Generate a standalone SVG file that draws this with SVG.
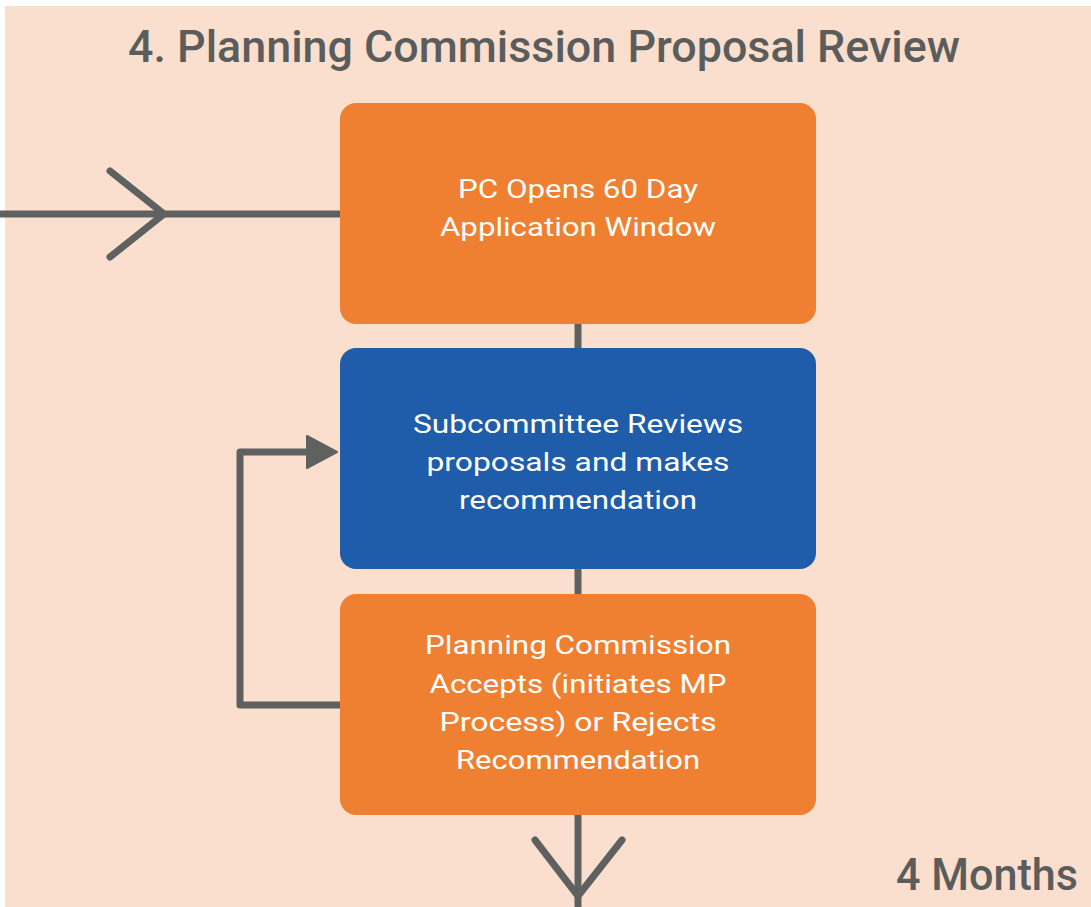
<svg xmlns="http://www.w3.org/2000/svg" width="1091" height="907" viewBox="0 0 1091 907">
<style>
.bg{fill:#FBDFCE}
.or{fill:#F08031}
.bl{fill:#1F5DAA}
.lbl{font-family:Roboto,"Liberation Sans",sans-serif;font-size:26px;fill:#FFFFFF;text-anchor:middle;font-weight:400}
.ttl{font-family:Roboto,"Liberation Sans",sans-serif;font-size:44px;fill:#5B5D5D;font-weight:500}
.ln{stroke:#5F6161;stroke-width:7;fill:none}
.chev{stroke:#5F6161;stroke-width:7;fill:none;stroke-linecap:round;stroke-linejoin:round}
</style>
<rect width="1091" height="907" fill="#FFFFFF"/>
<rect class="bg" x="5" y="6" width="1086" height="901"/>
<text class="ttl" x="128" y="62" textLength="832" lengthAdjust="spacingAndGlyphs">4. Planning Commission Proposal Review</text>
<text class="ttl" x="896" y="890" textLength="182" lengthAdjust="spacingAndGlyphs">4 Months</text>
<g id="connectors">
<line class="ln" x1="0" y1="214" x2="340" y2="214"/>
<polyline class="chev" points="110,171 164,214 110,257"/>
<line class="ln" x1="578" y1="322" x2="578" y2="350"/>
<line class="ln" x1="578" y1="567" x2="578" y2="596"/>
<polyline class="ln" points="340,705 240,705 240,452 310,452" stroke-linejoin="round"/>
<polygon points="307,436 337,452 307,468" fill="#5F6161" stroke="#5F6161" stroke-width="2" stroke-linejoin="round"/>
<line class="ln" x1="578" y1="813" x2="578" y2="907"/>
<polyline class="chev" points="535,840 578,896 622,840"/>
</g>
<g id="node1">
<rect class="or" x="340" y="103" width="476" height="221" rx="16"/>
<text class="lbl" x="578" y="198" textLength="240" lengthAdjust="spacingAndGlyphs">PC Opens 60 Day</text>
<text class="lbl" x="578" y="236" textLength="276" lengthAdjust="spacingAndGlyphs">Application Window</text>
</g>
<g id="node2">
<rect class="bl" x="340" y="348" width="476" height="221" rx="16"/>
<text class="lbl" x="578" y="433" textLength="330" lengthAdjust="spacingAndGlyphs">Subcommittee Reviews</text>
<text class="lbl" x="578" y="471" textLength="303" lengthAdjust="spacingAndGlyphs">proposals and makes</text>
<text class="lbl" x="578" y="509" textLength="238" lengthAdjust="spacingAndGlyphs">recommendation</text>
</g>
<g id="node3">
<rect class="or" x="340" y="594" width="476" height="221" rx="16"/>
<text class="lbl" x="578" y="654" textLength="306" lengthAdjust="spacingAndGlyphs">Planning Commission</text>
<text class="lbl" x="578" y="693" textLength="297" lengthAdjust="spacingAndGlyphs">Accepts (initiates MP</text>
<text class="lbl" x="578" y="731" textLength="277" lengthAdjust="spacingAndGlyphs">Process) or Rejects</text>
<text class="lbl" x="578" y="769" textLength="244" lengthAdjust="spacingAndGlyphs">Recommendation</text>
</g>
</svg>
